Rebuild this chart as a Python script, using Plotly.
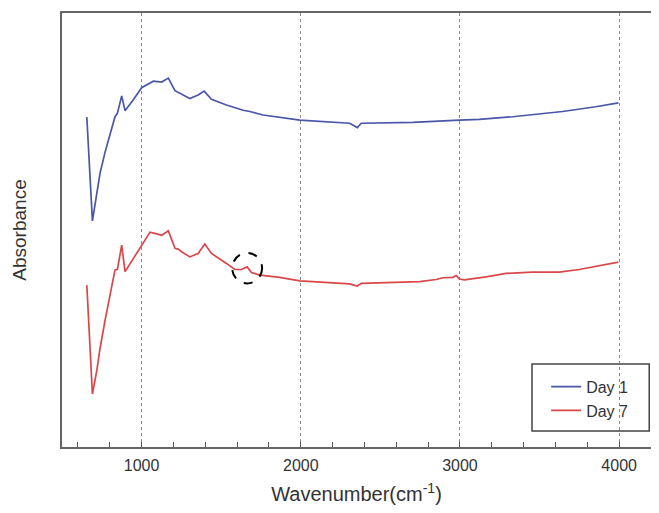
import plotly.graph_objects as go

# Wavenumber (cm^-1) and absorbance (arbitrary units)
day1_wn = [656, 691, 719, 739, 771, 802, 833, 848, 875, 896, 948, 1000, 1074, 1126, 1168, 1210,
           1251, 1303, 1355, 1393, 1439, 1533, 1638, 1680, 1763, 1868, 1994, 2307,
           2355, 2380, 2550, 2704, 2997, 3122, 3331, 3644, 3853, 3995]
day1_abs = [76.0, 52.1, 58.5, 63.1, 68.0, 72.3, 76.1, 76.9, 80.9, 77.5, 80.0, 82.8, 84.3, 84.1, 85.0, 82.1,
            81.3, 80.3, 81.1, 82.0, 80.1, 78.8, 77.6, 77.3, 76.5, 76.0, 75.3, 74.6,
            73.6, 74.6, 74.7, 74.8, 75.3, 75.5, 76.1, 77.3, 78.4, 79.3]

day7_wn = [656, 691, 719, 739, 771, 802, 833, 848, 875, 896, 948, 1000, 1053, 1095, 1126, 1168,
           1210, 1230, 1251, 1303, 1355, 1397, 1439, 1533, 1586, 1627, 1663, 1690, 1743,
           1868, 1994, 2307, 2355, 2380, 2746, 2850, 2892, 2955, 2976, 2997, 3028, 3164,
           3290, 3456, 3624, 3749, 3995]
day7_abs = [37.3, 12.2, 17.7, 22.7, 29.3, 35.0, 40.8, 40.9, 46.5, 40.4, 43.5, 46.5, 49.5, 49.1, 48.8, 49.8,
            45.8, 45.6, 45.0, 43.8, 44.6, 46.8, 44.6, 42.3, 40.9, 40.9, 41.5, 40.2, 39.6,
            39.1, 38.3, 37.6, 37.1, 37.7, 38.1, 38.6, 39.0, 39.1, 39.5, 38.7, 38.5, 39.2,
            40.0, 40.3, 40.3, 40.9, 42.6]

series_names = ["Day 1", "Day 7"]
series_colors = ["#4a56a6", "#d9474a"]

# highlighted feature (circle): centre wavenumber and absorbance
mark_wn = 1663
mark_abs = 41.2

fig = go.Figure()
for name, wn, ab, col in zip(series_names, [day1_wn, day7_wn], [day1_abs, day7_abs], series_colors):
    fig.add_trace(go.Scatter(x=wn, y=ab, mode="lines", name=name,
                             line=dict(color=col, width=1.7)))

fig.add_shape(type="circle", xref="x", yref="y",
              x0=mark_wn - 94, x1=mark_wn + 94, y0=mark_abs - 3.5, y1=mark_abs + 3.5,
              line=dict(color="black", width=2, dash="dash"))

# legend frame
fig.add_shape(type="rect", xref="paper", yref="paper",
              x0=0.798, x1=0.997, y0=0.037, y1=0.191,
              line=dict(color="#444", width=1.5), fillcolor="white", layer="below")

font_family = "Liberation Sans, Arial, sans-serif"
fig.update_layout(
    width=643, height=497,
    margin=dict(l=54, r=0, t=5, b=58, autoexpand=False),
    paper_bgcolor="white", plot_bgcolor="white",
    font=dict(family=font_family, color="#333"),
    showlegend=True,
    legend=dict(x=0.822, y=0.178, xanchor="left", yanchor="top",
                borderwidth=0, bgcolor="rgba(0,0,0,0)",
                font=dict(size=16, color="#333"), tracegroupgap=0),
    xaxis=dict(range=[500, 4200], tick0=0, dtick=1000, automargin=False,
               ticks="inside", ticklen=5, tickcolor="#555", ticklabelstandoff=3,
               showline=True, linecolor="#666", linewidth=1.5, mirror=True,
               showgrid=True, gridcolor="#888", griddash="dot", gridwidth=1,
               zeroline=False,
               tickfont=dict(size=16, color="#333"),
               minor=dict(dtick=200, tick0=0, ticks="inside", ticklen=5, tickcolor="#555", showgrid=False),
               title=dict(text="Wavenumber(cm<sup>-1</sup>)", font=dict(size=20, color="#333"), standoff=21)),
    yaxis=dict(range=[0, 100], showticklabels=False, ticks="", automargin=False,
               showline=True, linecolor="#666", linewidth=1.5, mirror=False,
               showgrid=False, zeroline=False,
               title=dict(text="Absorbance", font=dict(size=19, color="#333"), standoff=29)),
)

fig.write_html("out.html")
